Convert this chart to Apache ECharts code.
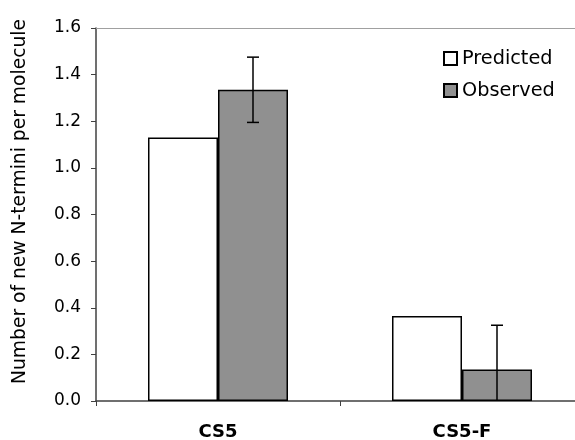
<!DOCTYPE html>
<html>
<head>
<meta charset="utf-8">
<script src="https://cdn.jsdelivr.net/npm/echarts@6/dist/echarts.min.js"></script>
<style>
  html, body { margin: 0; padding: 0; background: #fff; }
  #chart { width: 575px; height: 440px; }
</style>
</head>
<body>
<div id="chart"></div>
<script>
// 数据
const categories = ['CS5', 'CS5-F'];
const predicted = [1.13, 0.365];
const observed = [1.335, 0.135];
const observedErr = [0.14, 0.19];

const font = 'DejaVu Sans';
const barW = 70;

// 误差线
const errData = observed.map((v, i) => [i, v, observedErr[i]]);

const chart = echarts.init(document.getElementById('chart'));
chart.setOption({
	animation: false,
	textStyle: { fontFamily: font },
	grid: { left: 96, width: 488, top: 28, height: 373, outerBoundsMode: 'none', containLabel: false },
	legend: {
		orient: 'vertical',
		left: 438,
		top: 44,
		itemWidth: 13,
		itemHeight: 13,
		itemGap: 13,
		icon: 'rect',
		textStyle: { fontSize: 19.3, color: '#000', fontFamily: font },
		data: ['Predicted', 'Observed']
	},
	xAxis: [{
		type: 'category',
		data: categories,
		axisLine: { lineStyle: { color: '#404040', width: 1.5 } },
		axisTick: { show: true, length: 5, lineStyle: { color: '#404040' } },
		axisLabel: { color: '#000', fontSize: 18, fontWeight: 'bold', margin: 22 }
	}, {
		type: 'category',
		position: 'top',
		data: categories,
		axisLine: { lineStyle: { color: '#a0a0a0', width: 1 } },
		axisTick: { show: false },
		axisLabel: { show: false }
	}],
	yAxis: {
		type: 'value',
		min: 0,
		max: 1.6,
		interval: 0.2,
		name: 'Number of new N-termini per molecule',
		nameLocation: 'middle',
		nameGap: 66,
		nameTextStyle: { fontSize: 18.7, color: '#000', padding: [0, 0, 0, 26] },
		axisLine: { show: true, lineStyle: { color: '#404040', width: 1.5 } },
		axisTick: { show: true, length: 5, lineStyle: { color: '#404040' } },
		axisLabel: { color: '#000', fontSize: 17, margin: 15, formatter: v => v.toFixed(1) },
		splitLine: { show: false }
	},
	series: [{
		name: 'Predicted',
		type: 'bar',
		xAxisIndex: 0,
		data: predicted,
		barWidth: barW,
		barGap: '0%',
		itemStyle: { color: '#ffffff', borderColor: '#000', borderWidth: 1.5 }
	}, {
		name: 'Observed',
		type: 'bar',
		xAxisIndex: 0,
		data: observed,
		barWidth: barW,
		barGap: '0%',
		itemStyle: { color: '#909090', borderColor: '#000', borderWidth: 1.5 }
	}, {
		type: 'custom',
		xAxisIndex: 0,
		z: 10,
		data: errData,
		renderItem: function(params, api) {
			const i = api.value(0);
			const v = api.value(1);
			const e = api.value(2);
			const top = api.coord([i, v + e]);
			const bot = api.coord([i, Math.max(0, v - e)]);
			const x = top[0] + barW / 2;
			const cap = 6;
			const style = { stroke: '#000', lineWidth: 1.5 };
			const children = [
				{ type: 'line', shape: { x1: x, y1: top[1], x2: x, y2: bot[1] }, style },
				{ type: 'line', shape: { x1: x - cap, y1: top[1], x2: x + cap, y2: top[1] }, style }
			];
			if (v - e > 0) {
				children.push({ type: 'line', shape: { x1: x - cap, y1: bot[1], x2: x + cap, y2: bot[1] }, style });
			}
			return { type: 'group', children };
		}
	}]
});
</script>
</body>
</html>
